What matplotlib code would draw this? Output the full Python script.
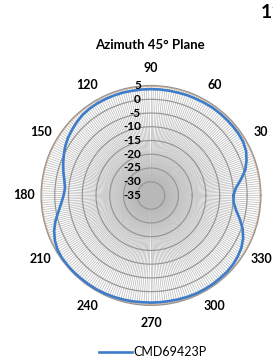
import numpy as np
import matplotlib
matplotlib.use("Agg")
import matplotlib.pyplot as plt
from matplotlib.transforms import offset_copy

title = "Azimuth 45° Plane"
series_name = "CMD69423P"
angles_deg = list(range(0, 360, 5))
gain_db = [-5.0, -4.0, -1.8, 0.5, 2.0, 3.2, 3.8, 4.0, 4.0, 4.0, 4.0, 4.0,
           3.9, 3.8, 3.8, 3.7, 3.7, 3.7, 3.7, 3.7, 3.7, 3.8, 3.8, 3.8,
           3.8, 3.7, 3.5, 3.0, 2.4, 1.8, 1.0, 0.0, -1.0, -2.0, -3.0, -3.6,
           -3.2, -2.2, -0.8, 1.0, 2.5, 3.6, 4.3, 4.6, 4.6, 4.6, 4.5, 4.5,
           4.5, 4.4, 4.3, 4.2, 4.1, 4.0, 4.0, 4.0, 4.0, 4.1, 4.2, 4.3,
           4.3, 4.3, 4.2, 4.2, 4.0, 3.6, 3.0, 2.0, 0.5, -1.5, -3.5, -4.8]
angle_ticks = list(range(0, 360, 30))
angle_labels = [str(a) for a in angle_ticks]
r_ticks = [5, 0, -5, -10, -15, -20, -25, -30, -35]
r_labels = [str(r) for r in r_ticks]
r_min, r_max = -35, 5
spoke_step = 1.25

fig = plt.figure(figsize=(2.73, 3.64), dpi=100)
ax = fig.add_axes([0.150, 0.161, 0.806, 0.604], projection="polar")
ax.set_ylim(r_min, r_max)
ax.set_theta_zero_location("E")
ax.set_theta_direction(1)

ax.grid(False)
# spokes
for a in np.arange(0, 360, spoke_step):
    t = np.deg2rad(a)
    ax.plot([t, t], [r_min, r_max], color="#b8b8b8", lw=0.5, zorder=1)
# rings
th = np.linspace(0, 2 * np.pi, 361)
for r in r_ticks:
    if r == r_max:
        continue
    ax.plot(th, np.full_like(th, r), color="#959595", lw=0.85, zorder=2)
ax.plot(th, np.full_like(th, 4.7), color="#e8b58a", lw=0.7, zorder=2)
ax.spines["polar"].set_color("#959595")
ax.spines["polar"].set_linewidth(0.9)

t = np.deg2rad(angles_deg + [angles_deg[0]])
g = gain_db + [gain_db[0]]
line, = ax.plot(t, g, color="#3d7cc9", lw=1.9, zorder=5, label=series_name)

ax.set_xticks(np.deg2rad(angle_ticks))
ax.set_xticklabels(angle_labels, fontsize=9, fontweight="bold", family="Lato")
ax.tick_params(axis="x", pad=2)
ax.set_yticks([])

tr = offset_copy(ax.transData, fig=fig, x=-10, y=0, units="dots")
for r, lab in zip(r_ticks, r_labels):
    ax.text(np.pi / 2, r, lab, transform=tr, ha="right", va="center",
            fontsize=8.5, fontweight="bold", family="Lato", zorder=6)

fig.text(0.55, 0.876, title, ha="center", va="center", fontsize=9.5,
         fontweight="bold", family="Lato")
fig.text(0.955, 0.965, "11", ha="left", va="center", fontsize=14,
         fontweight="bold", family="Lato")

leg = fig.legend(handles=[line], loc="center", bbox_to_anchor=(0.56, 0.033),
                 frameon=False, prop={"family": "Lato", "size": 9},
                 handlelength=2.6, handletextpad=0.1)

fig.savefig("out.png", dpi=100)
